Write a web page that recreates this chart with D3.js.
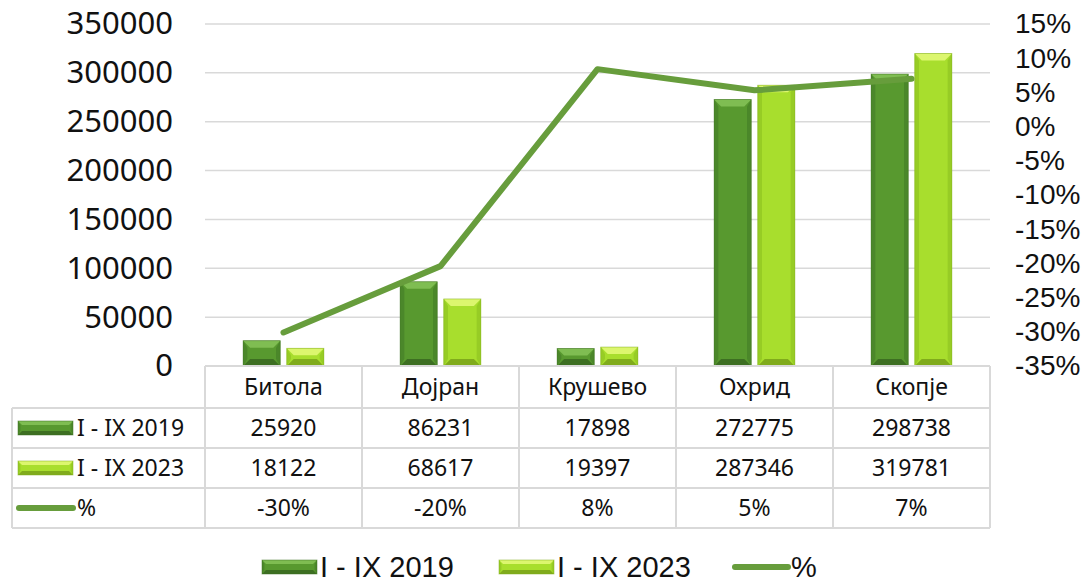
<!DOCTYPE html>
<html>
<head>
<meta charset="utf-8">
<script src="https://cdn.jsdelivr.net/npm/d3@7"></script>
<style>
  body { margin: 0; background: #fff; }
  svg { display: block; }
</style>
</head>
<body>
<svg id="chart" width="1090" height="583"></svg>
<script>
const categories = ["Битола", "Дојран", "Крушево", "Охрид", "Скопје"];
const seriesNames = ["I - IX 2019", "I - IX 2023"];
const values2019 = [25920, 86231, 17898, 272775, 298738];
const values2023 = [18122, 68617, 19397, 287346, 319781];
const pctValues = [-30.1, -20.4, 8.4, 5.3, 7.0];
const pctLabels = ["-30%", "-20%", "8%", "5%", "7%"];
const leftTicks = [0, 50000, 100000, 150000, 200000, 250000, 300000, 350000];
const rightTicks = [15, 10, 5, 0, -5, -10, -15, -20, -25, -30, -35];

const geoFont = "'Noto Sans', sans-serif";
const arialFont = "'Liberation Sans', Arial, sans-serif";

const plot = { left: 205, right: 990, top: 24, bottom: 366 };
const svg = d3.select('#chart');

const x0 = d3.scaleBand().domain(categories).range([plot.left, plot.right]);
const x1 = d3.scaleBand().domain(seriesNames).range([0, x0.bandwidth()])
  .paddingInner(0.15).paddingOuter(0.874);
const y = d3.scaleLinear().domain([0, 350000]).range([plot.bottom, plot.top]);
const yR = d3.scaleLinear().domain([-35, 15]).range([plot.bottom, plot.top]);

const palette = {
  "I - IX 2019": { face: "#58992f", top: "#7fbd52", side: "#4b872a", bottom: "#3d6f22" },
  "I - IX 2023": { face: "#a8de2d", top: "#dcf66e", side: "#97cc25", bottom: "#80ab1c" }
};
const lineColor = "#679d3c";
const gridColor = "#d9d9d9";

// gridlines
svg.append('g')
  .selectAll('line')
  .data(leftTicks.slice(1))
  .join('line')
  .attr('x1', plot.left).attr('x2', plot.right)
  .attr('y1', d => y(d)).attr('y2', d => y(d))
  .attr('stroke', gridColor).attr('stroke-width', 1.5);

// left axis labels
const leftAxis = svg.append('g')
  .attr('transform', `translate(${plot.left - 32},0)`)
  .call(d3.axisLeft(y).tickValues(leftTicks).tickSize(0).tickPadding(0).tickFormat(d3.format('d')));
leftAxis.select('.domain').remove();
leftAxis.selectAll('text')
  .attr('font-family', geoFont).attr('font-size', 31).attr('fill', '#111');

// right axis labels
const rightAxis = svg.append('g')
  .attr('transform', `translate(${plot.right + 25},0)`)
  .call(d3.axisRight(yR).tickValues(rightTicks).tickSize(0).tickPadding(0).tickFormat(d => d + '%'));
rightAxis.select('.domain').remove();
rightAxis.selectAll('text')
  .attr('font-family', arialFont).attr('font-size', 28).attr('fill', '#111');

// beveled bar helper
function bevelBar(g, bx, by, bw, bh, col, maxB) {
  const b = Math.min(maxB, bh / 2, bw / 2);
  g.append('rect').attr('x', bx).attr('y', by).attr('width', bw).attr('height', bh).attr('fill', col.face);
  const pts = [
    [[bx, by], [bx + bw, by], [bx + bw - b, by + b], [bx + b, by + b], col.top],
    [[bx, by], [bx + b * 0.6, by + b], [bx + b * 0.6, by + bh - b], [bx, by + bh], col.side],
    [[bx + bw, by], [bx + bw - b * 0.6, by + b], [bx + bw - b * 0.6, by + bh - b], [bx + bw, by + bh], col.side],
    [[bx, by + bh], [bx + b, by + bh - b], [bx + bw - b, by + bh - b], [bx + bw, by + bh], col.bottom]
  ];
  pts.forEach(p => {
    g.append('polygon').attr('points', p.slice(0, 4).map(q => q.join(',')).join(' ')).attr('fill', p[4]);
  });
  g.append('rect').attr('x', bx).attr('y', by).attr('width', bw).attr('height', bh)
    .attr('fill', 'none').attr('stroke', col.bottom).attr('stroke-width', 0.8).attr('stroke-opacity', 0.6);
}

// bars
const barData = [];
categories.forEach((c, i) => {
  barData.push({ cat: c, s: seriesNames[0], v: values2019[i] });
  barData.push({ cat: c, s: seriesNames[1], v: values2023[i] });
});
const barsG = svg.append('g');
barData.forEach(d => {
  const bx = x0(d.cat) + x1(d.s);
  const by = y(d.v);
  bevelBar(barsG.append('g'), bx, by, x1.bandwidth(), plot.bottom - by, palette[d.s], 7);
});

// line
const line = d3.line()
  .x((d, i) => x0(categories[i]) + x0.bandwidth() / 2)
  .y(d => yR(d));
svg.append('path')
  .datum(pctValues)
  .attr('d', line)
  .attr('fill', 'none')
  .attr('stroke', lineColor)
  .attr('stroke-width', 6)
  .attr('stroke-linecap', 'round')
  .attr('stroke-linejoin', 'round');

// data table
const table = { left: 12, rows: [366, 408, 448, 488, 528] };
const tg = svg.append('g');
const border = (x1p, y1p, x2p, y2p) => tg.append('line')
  .attr('x1', x1p).attr('y1', y1p).attr('x2', x2p).attr('y2', y2p)
  .attr('stroke', gridColor).attr('stroke-width', 2);

border(plot.left, table.rows[0], plot.right, table.rows[0]);
table.rows.slice(1).forEach(r => border(table.left, r, plot.right, r));
border(table.left, table.rows[1], table.left, table.rows[4]);
categories.forEach(c => border(x0(c), table.rows[0], x0(c), table.rows[4]));
border(plot.right, table.rows[0], plot.right, table.rows[4]);

const rowMid = i => (table.rows[i] + table.rows[i + 1]) / 2;
const tableRows = [
  categories,
  values2019.map(String),
  values2023.map(String),
  pctLabels
];
tableRows.forEach((row, ri) => {
  tg.selectAll(null)
    .data(row)
    .join('text')
    .attr('x', (d, i) => x0(categories[i]) + x0.bandwidth() / 2)
    .attr('y', rowMid(ri))
    .attr('dy', '0.35em')
    .attr('text-anchor', 'middle')
    .attr('font-family', geoFont)
    .attr('font-size', 23)
    .attr('fill', '#111')
    .text(d => d);
});

// legend keys inside table
seriesNames.forEach((s, i) => {
  const cy = rowMid(i + 1);
  bevelBar(tg.append('g'), 18, cy - 7, 55, 14, palette[s], 4);
  tg.append('text').attr('x', 77).attr('y', cy).attr('dy', '0.35em')
    .attr('font-family', geoFont).attr('font-size', 23).attr('fill', '#111').text(s);
});
tg.append('line').attr('x1', 19).attr('x2', 73).attr('y1', rowMid(3)).attr('y2', rowMid(3))
  .attr('stroke', lineColor).attr('stroke-width', 6).attr('stroke-linecap', 'round');
tg.append('text').attr('x', 77).attr('y', rowMid(3)).attr('dy', '0.35em')
  .attr('font-family', geoFont).attr('font-size', 23).attr('fill', '#111').text('%');

// bottom legend
const lg = svg.append('g');
const legendY = 567;
const legendItems = [
  { key: seriesNames[0], x: 262, type: 'bar' },
  { key: seriesNames[1], x: 499, type: 'bar' },
  { key: '%', x: 733, type: 'line' }
];
legendItems.forEach(it => {
  if (it.type === 'bar') {
    bevelBar(lg.append('g'), it.x, legendY - 7, 55, 14, palette[it.key], 4);
  } else {
    lg.append('line').attr('x1', it.x + 2).attr('x2', it.x + 55).attr('y1', legendY).attr('y2', legendY)
      .attr('stroke', lineColor).attr('stroke-width', 6).attr('stroke-linecap', 'round');
  }
  lg.append('text').attr('x', it.x + 58).attr('y', 577)
    .attr('font-family', arialFont).attr('font-size', 29).attr('fill', '#111').text(it.key);
});
</script>
</body>
</html>
